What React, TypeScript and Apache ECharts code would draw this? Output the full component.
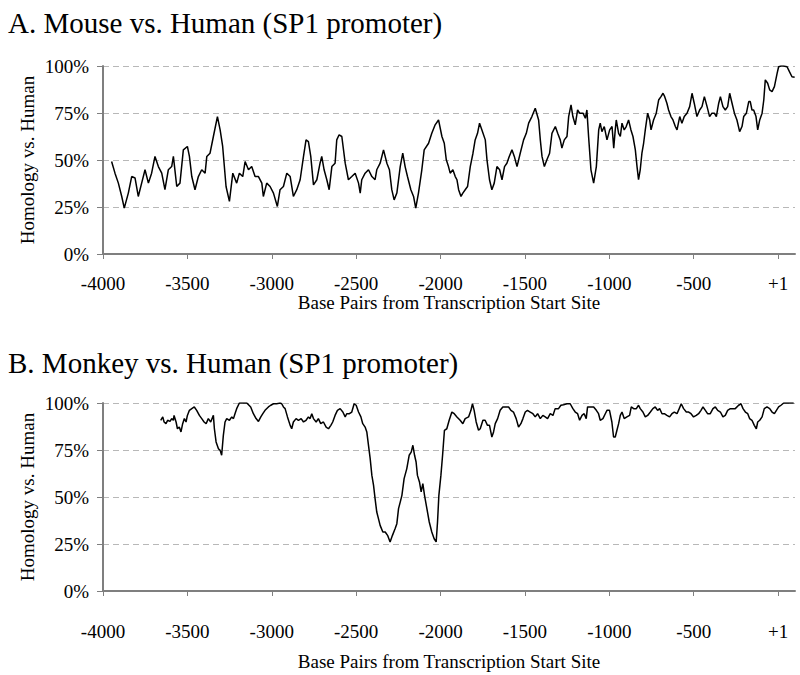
import React, { useEffect, useRef } from "react";
import * as echarts from "echarts";

const FONT = "'Liberation Serif', 'Times New Roman', serif";

const xTickValues = [-4000, -3500, -3000, -2500, -2000, -1500, -1000, -500, 0];

const titleA = "A. Mouse vs. Human (SP1 promoter)";
const titleB = "B. Monkey vs. Human (SP1 promoter)";
const xName = "Base Pairs from Transcription Start Site";
const yName = "Homology vs. Human";

const mouseBp = [
  -3949, -3929, -3909, -3889, -3874, -3850, -3830, -3810, -3791, -3771, -3751, -3731, -3712, -3692, -3672, -3652,
  -3633, -3613, -3593, -3583, -3563, -3544, -3524, -3500, -3488, -3474, -3455, -3435, -3415, -3395, -3385, -3366,
  -3346, -3322, -3306, -3291, -3271, -3251, -3231, -3208, -3192, -3172, -3158, -3138, -3119, -3099, -3079, -3059,
  -3050, -3030, -3010, -2990, -2967, -2951, -2931, -2911, -2891, -2872, -2852, -2832, -2812, -2797, -2783, -2769,
  -2753, -2733, -2714, -2704, -2690, -2674, -2660, -2644, -2625, -2615, -2601, -2585, -2565, -2546, -2526, -2506,
  -2486, -2476, -2467, -2447, -2427, -2407, -2388, -2378, -2358, -2338, -2318, -2303, -2289, -2275, -2259, -2239,
  -2224, -2210, -2196, -2176, -2160, -2147, -2131, -2111, -2097, -2071, -2052, -2032, -2012, -1992, -1978, -1966,
  -1953, -1943, -1927, -1913, -1903, -1893, -1879, -1868, -1854, -1840, -1824, -1808, -1795, -1781, -1769, -1755,
  -1735, -1725, -1710, -1696, -1682, -1666, -1650, -1636, -1621, -1607, -1593, -1577, -1563, -1547, -1528, -1508,
  -1492, -1478, -1459, -1439, -1419, -1409, -1399, -1385, -1370, -1354, -1340, -1320, -1306, -1291, -1281, -1267,
  -1251, -1241, -1227, -1216, -1202, -1188, -1176, -1156, -1142, -1133, -1123, -1109, -1093, -1077, -1063, -1054,
  -1044, -1030, -1014, -998, -984, -974, -965, -959, -945, -935, -925, -912, -900, -886, -872, -860,
  -846, -836, -827, -817, -807, -797, -787, -773, -761, -753, -738, -722, -708, -694, -682, -672,
  -659, -649, -635, -623, -609, -599, -583, -570, -556, -540, -524, -510, -497, -481, -465, -451,
  -437, -421, -406, -392, -378, -366, -352, -342, -327, -313, -299, -287, -273, -259, -244, -228,
  -214, -204, -188, -174, -165, -155, -145, -131, -121, -109, -95, -85, -76, -62, -50, -36,
  -22, -6, 3, 17, 33, 53, 67, 82, 98,
];
const mousePct = [
  49.2, 43.0, 37.7, 30.6, 24.4, 32.4, 41.2, 40.4, 30.6, 37.7, 44.8, 37.7, 43.0, 51.9, 46.5, 43.0,
  34.2, 44.8, 46.5, 51.9, 35.9, 37.7, 55.4, 57.2, 51.9, 41.2, 34.2, 41.2, 44.8, 43.0, 51.9, 53.6,
  62.5, 73.1, 66.0, 57.2, 35.9, 28.0, 43.0, 37.7, 43.0, 41.2, 49.2, 44.8, 46.5, 41.2, 41.2, 37.7,
  30.6, 37.7, 35.9, 32.4, 25.3, 34.2, 35.9, 43.0, 41.2, 30.6, 34.2, 39.5, 51.9, 60.7, 59.8, 51.9,
  36.8, 39.5, 48.3, 51.9, 44.8, 39.5, 34.2, 46.5, 48.3, 60.7, 63.4, 62.5, 48.3, 39.5, 41.2, 43.0,
  37.7, 32.4, 39.5, 43.0, 44.8, 41.2, 39.5, 44.8, 48.3, 55.4, 48.3, 44.8, 34.2, 28.8, 32.4, 46.5,
  53.6, 46.5, 41.2, 34.2, 30.6, 24.4, 32.4, 44.8, 55.4, 58.9, 64.2, 68.7, 71.3, 62.5, 58.9, 50.1,
  46.5, 43.0, 44.8, 41.2, 39.5, 34.2, 30.6, 32.4, 34.2, 35.9, 46.5, 53.6, 60.7, 64.2, 69.6, 66.0,
  60.7, 50.1, 39.5, 34.2, 37.7, 46.5, 44.8, 39.5, 46.5, 48.3, 51.9, 55.4, 51.9, 46.5, 53.6, 60.7,
  64.2, 69.6, 73.1, 77.5, 71.3, 60.7, 51.9, 46.5, 50.1, 53.6, 64.2, 67.8, 64.2, 60.7, 56.3, 60.7,
  62.5, 73.1, 79.3, 73.1, 68.7, 76.6, 74.9, 74.9, 72.2, 76.6, 62.5, 44.8, 37.7, 46.5, 66.0, 69.6,
  65.1, 67.8, 60.7, 66.0, 67.8, 56.3, 66.0, 71.3, 64.2, 62.5, 69.6, 66.0, 67.8, 71.3, 66.0, 62.5,
  55.4, 46.5, 39.5, 44.8, 53.6, 58.9, 66.0, 74.9, 71.3, 66.0, 71.3, 74.9, 81.9, 83.7, 85.5, 83.7,
  80.2, 76.6, 73.1, 71.3, 67.8, 66.0, 73.1, 69.6, 73.1, 74.9, 78.4, 85.5, 80.2, 73.1, 76.6, 78.4,
  83.7, 78.4, 73.1, 74.9, 74.9, 73.1, 80.2, 83.7, 78.4, 76.6, 78.4, 85.5, 80.2, 74.9, 71.3, 65.1,
  67.8, 73.1, 74.9, 81.1, 81.1, 76.6, 76.6, 73.1, 66.0, 71.3, 74.9, 81.9, 92.6, 90.8, 87.3, 86.4,
  89.0, 96.1, 99.6, 100, 100, 99.6, 97.0, 94.3, 94.0,
];

const monkeyBp = [
  -3658, -3646, -3638, -3627, -3617, -3603, -3593, -3583, -3579, -3567, -3559, -3548, -3538, -3528, -3518, -3508,
  -3500, -3488, -3474, -3459, -3445, -3429, -3415, -3401, -3389, -3376, -3362, -3346, -3340, -3330, -3316, -3306,
  -3297, -3287, -3277, -3267, -3251, -3237, -3227, -3218, -3208, -3192, -3148, -3125, -3109, -3093, -3079, -3065,
  -3053, -3040, -3020, -3006, -2990, -2971, -2951, -2941, -2931, -2921, -2907, -2891, -2882, -2872, -2856, -2842,
  -2826, -2812, -2797, -2783, -2773, -2763, -2753, -2737, -2724, -2710, -2694, -2678, -2664, -2650, -2639, -2625,
  -2611, -2595, -2579, -2565, -2556, -2540, -2526, -2512, -2500, -2486, -2472, -2461, -2447, -2437, -2427, -2417,
  -2407, -2397, -2388, -2378, -2368, -2358, -2342, -2328, -2314, -2299, -2285, -2269, -2259, -2249, -2239, -2229,
  -2216, -2200, -2186, -2174, -2164, -2154, -2145, -2137, -2125, -2115, -2105, -2095, -2081, -2067, -2052, -2038,
  -2026, -2018, -2010, -1998, -1988, -1977, -1963, -1949, -1933, -1919, -1903, -1884, -1868, -1854, -1834, -1820,
  -1811, -1801, -1789, -1775, -1765, -1749, -1736, -1722, -1710, -1696, -1686, -1676, -1662, -1647, -1631, -1617,
  -1597, -1583, -1568, -1552, -1538, -1524, -1512, -1498, -1485, -1469, -1453, -1439, -1425, -1409, -1394, -1380,
  -1366, -1350, -1334, -1321, -1301, -1287, -1271, -1251, -1232, -1216, -1202, -1188, -1176, -1162, -1149, -1137,
  -1129, -1113, -1093, -1077, -1064, -1054, -1038, -1024, -1014, -999, -985, -975, -965, -955, -945, -935,
  -925, -912, -896, -880, -870, -856, -840, -827, -817, -801, -787, -773, -757, -742, -728, -714,
  -702, -688, -674, -659, -643, -629, -615, -599, -586, -574, -560, -544, -530, -516, -501, -485,
  -471, -457, -445, -431, -418, -402, -386, -372, -358, -342, -327, -313, -299, -283, -267, -254,
  -234, -220, -208, -194, -180, -169, -155, -141, -129, -121, -109, -95, -82, -66, -50, -36,
  -22, -10, 3, 17, 33, 53, 73, 92,
];
const monkeyPct = [
  90.8, 92.6, 89.9, 89.0, 90.8, 90.2, 91.7, 90.8, 93.4, 89.9, 86.3, 87.2, 84.6, 89.0, 91.7, 89.9,
  93.4, 96.1, 97.0, 97.9, 96.1, 93.4, 91.7, 89.9, 89.0, 91.7, 89.9, 93.4, 86.3, 79.3, 75.7, 74.8,
  72.2, 82.8, 89.9, 91.7, 90.8, 92.6, 91.7, 94.3, 97.0, 100, 100, 97.9, 94.3, 91.7, 90.2, 92.6,
  94.3, 96.1, 97.9, 98.8, 99.6, 99.6, 100, 99.6, 97.9, 97.0, 92.6, 88.1, 86.3, 89.9, 91.7, 90.8,
  91.7, 89.9, 90.8, 92.6, 91.7, 94.3, 91.7, 89.9, 91.7, 89.0, 89.9, 87.2, 86.3, 88.1, 89.9, 93.4,
  96.1, 97.0, 95.2, 92.6, 94.3, 94.3, 95.2, 99.6, 98.8, 95.2, 92.6, 89.0, 87.2, 84.6, 77.5, 70.4,
  61.5, 56.2, 49.1, 42.0, 38.5, 34.9, 31.4, 31.4, 29.6, 26.1, 29.6, 33.2, 35.8, 43.8, 47.3, 50.9,
  59.8, 65.1, 72.2, 73.9, 77.5, 72.2, 68.6, 61.5, 58.0, 52.7, 57.1, 50.9, 43.8, 36.7, 31.4, 27.8,
  26.1, 36.7, 50.9, 61.5, 72.2, 85.5, 86.3, 90.8, 95.2, 94.3, 92.6, 90.8, 89.0, 91.7, 92.6, 96.1,
  99.6, 96.1, 89.9, 85.5, 86.3, 90.8, 90.8, 88.1, 88.1, 81.9, 84.6, 89.0, 91.7, 96.1, 97.9, 97.9,
  97.9, 96.1, 95.2, 91.7, 87.2, 89.0, 91.7, 95.2, 96.1, 95.2, 94.3, 92.6, 94.3, 91.7, 93.4, 92.6,
  91.7, 94.3, 93.4, 97.0, 97.0, 98.8, 99.1, 99.6, 99.6, 97.0, 95.2, 94.3, 90.8, 93.4, 94.3, 91.7,
  97.9, 97.9, 97.9, 96.1, 94.3, 90.8, 91.7, 94.3, 96.1, 96.1, 89.9, 81.9, 81.9, 85.5, 89.0, 93.4,
  95.2, 91.7, 92.6, 93.4, 97.9, 97.0, 97.0, 98.8, 97.0, 95.2, 92.6, 93.4, 95.2, 97.0, 97.9, 96.1,
  97.0, 94.3, 94.3, 93.4, 92.6, 94.3, 95.2, 94.3, 97.0, 99.6, 97.0, 95.2, 95.2, 94.3, 92.6, 93.4,
  94.3, 96.1, 97.9, 96.1, 94.3, 94.3, 97.0, 97.9, 96.1, 95.2, 92.6, 93.4, 96.1, 97.0, 97.0, 97.0,
  98.8, 99.6, 97.0, 95.2, 94.3, 91.7, 90.8, 88.1, 86.3, 89.9, 90.8, 92.6, 97.0, 97.9, 97.0, 95.2,
  94.3, 96.1, 97.9, 98.8, 100, 100, 100, 100,
];

const axisGray = "#7f7f7f";

function makeX(gridIndex: number, labelMargin: number, nameGap: number) {
  return {
    type: "value",
    gridIndex,
    min: -4000,
    max: 100,
    name: xName,
    nameLocation: "middle",
    nameGap,
    nameMoveOverlap: false,
    nameTextStyle: { fontFamily: FONT, fontSize: 19, color: "#000" },
    axisLine: { show: true, onZero: false, lineStyle: { color: axisGray, width: 2 } },
    axisTick: { show: true, length: 5, customValues: xTickValues, lineStyle: { color: axisGray, width: 1 } },
    axisLabel: {
      customValues: xTickValues,
      margin: labelMargin,
      fontFamily: FONT,
      fontSize: 19,
      color: "#000",
      formatter: (v: number) => (v === 0 ? "+1" : String(v)),
    },
    splitLine: { show: false },
  };
}

function makeY(gridIndex: number) {
  return {
    type: "value",
    gridIndex,
    min: 0,
    max: 100,
    interval: 25,
    name: yName,
    nameLocation: "middle",
    nameRotate: 90,
    nameGap: 66,
    nameMoveOverlap: false,
    nameTextStyle: { fontFamily: FONT, fontSize: 19, color: "#000" },
    axisLine: { show: true, onZero: false, lineStyle: { color: axisGray, width: 2 } },
    axisTick: { show: true, length: 6, lineStyle: { color: axisGray, width: 1 } },
    axisLabel: {
      margin: 14,
      fontFamily: FONT,
      fontSize: 19,
      color: "#000",
      formatter: (v: number) => v + "%",
    },
    splitLine: { show: true, lineStyle: { color: "#b8b8b8", type: [6, 4], width: 1 } },
  };
}

export default function App() {
  const ref = useRef<HTMLDivElement>(null);
  useEffect(() => {
    if (!ref.current) return;
    const chart = echarts.init(ref.current, null, { renderer: "svg" });
    const mouseData = mouseBp.map((b, i) => [b, mousePct[i]]);
    const monkeyData = monkeyBp.map((b, i) => [b, monkeyPct[i]]);
    const titleStyle = { fontFamily: FONT, fontSize: 29, fontWeight: "normal", color: "#000" };
    chart.setOption({
      animation: false,
      backgroundColor: "#fff",
      textStyle: { fontFamily: FONT },
      title: [
        { text: titleA, left: 3, top: 3, textStyle: titleStyle },
        { text: titleB, left: 3, top: 343, textStyle: titleStyle },
      ],
      grid: [
        { left: 103, top: 66, right: 5, height: 188 },
        { left: 103, top: 403, right: 5, height: 188 },
      ],
      xAxis: [makeX(0, 20, 39), makeX(1, 31, 61)],
      yAxis: [makeY(0), makeY(1)],
      series: [
        {
          type: "line",
          xAxisIndex: 0,
          yAxisIndex: 0,
          data: mouseData,
          showSymbol: false,
          symbol: "none",
          lineStyle: { color: "#000", width: 1.5 },
        },
        {
          type: "line",
          xAxisIndex: 1,
          yAxisIndex: 1,
          data: monkeyData,
          showSymbol: false,
          symbol: "none",
          lineStyle: { color: "#000", width: 1.5 },
        },
      ],
    });
    return () => chart.dispose();
  }, []);
  return <div ref={ref} style={{ position: "fixed", left: 0, top: 0, width: 800, height: 675 }} />;
}
